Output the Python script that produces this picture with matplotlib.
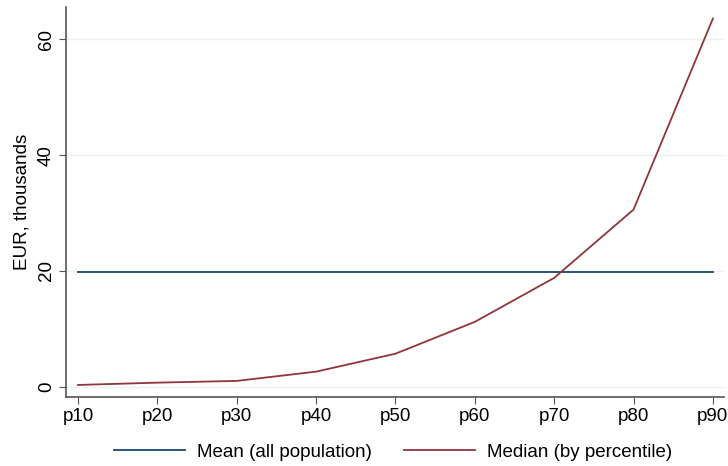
import matplotlib
matplotlib.use("Agg")
import matplotlib.pyplot as plt

plt.rcParams['font.family'] = ['Liberation Sans', 'DejaVu Sans']

percentiles = [10, 20, 30, 40, 50, 60, 70, 80, 90]
tick_labels = ["p10", "p20", "p30", "p40", "p50", "p60", "p70", "p80", "p90"]
median_values = [0.3, 0.7, 1.0, 2.6, 5.7, 11.2, 18.8, 30.6, 63.6]
mean_value = [19.8] * 9

fs = 13.5
fig = plt.figure(figsize=(7.28, 4.66), dpi=100)
ax = fig.add_axes([66/728, 1 - 397/466, (724 - 66)/728, (397 - 7)/466])

ax.plot(percentiles, mean_value, color="#1a476f", lw=1.3, label="Mean (all population)")
ax.plot(percentiles, median_values, color="#90353b", lw=1.3, label="Median (by percentile)")

ax.set_xlim(8.49, 91.4)
ax.set_ylim(-1.78, 65.6)
ax.set_xticks(percentiles)
ax.set_xticklabels(tick_labels)
ax.set_yticks([0, 20, 40, 60])
ax.set_yticklabels(["0", "20", "40", "60"], rotation=90, va="center")
ax.grid(axis="y", color="#eaf2f3", lw=1)
ax.set_axisbelow(True)
for s in ["top", "right"]:
    ax.spines[s].set_visible(False)
for s in ["left", "bottom"]:
    ax.spines[s].set_color("#555555")
    ax.spines[s].set_linewidth(1.2)
ax.tick_params(axis="both", length=5, color="#555555", labelsize=fs, pad=3)
ax.set_ylabel("EUR, thousands", fontsize=fs, labelpad=5)

fig.legend(loc="center", bbox_to_anchor=(0.5 + 29/728, 1 - 452/466), ncol=2, frameon=False,
           fontsize=fs, handlelength=3.8, columnspacing=1.7, handletextpad=0.64)

fig.savefig("out.png", dpi=100)
